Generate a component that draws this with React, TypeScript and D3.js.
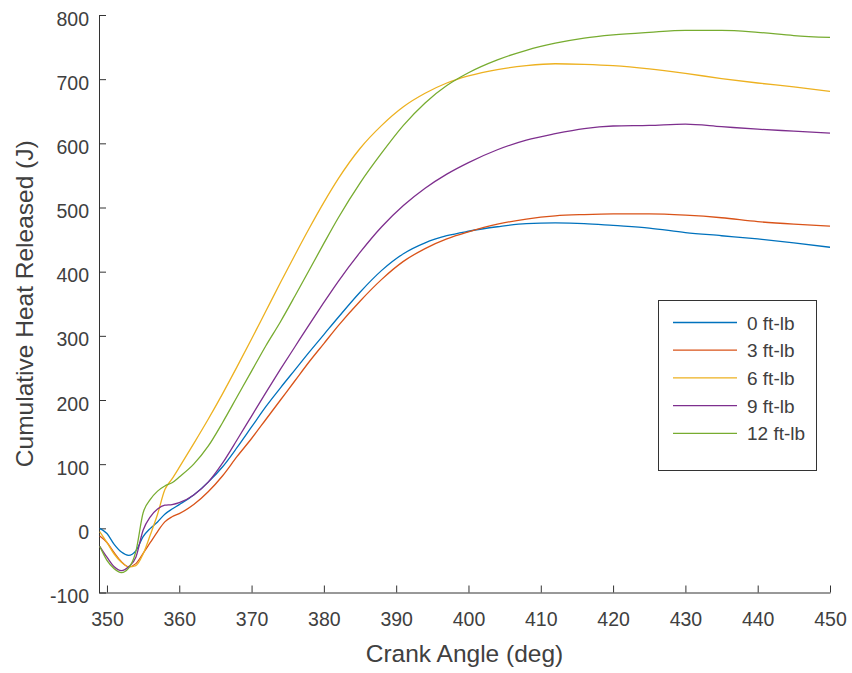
import React, { useRef, useEffect } from 'react';
import * as d3 from 'd3';

const angles = [349, 350, 351, 352, 353, 354, 355, 356, 357, 358, 359, 360, 362, 364, 366, 368, 370, 372, 374, 376, 378, 380, 382, 385, 388, 391, 394, 397, 400, 404, 408, 412, 416, 420, 425, 430, 435, 440, 445, 450];

const load0 = [0, -8, -25, -37, -42, -35, -13, 0, 10, 22, 30, 37, 52, 72, 96, 126, 158, 190, 219, 247, 275, 302, 329, 368, 402, 428, 445, 456, 463, 470, 475, 476, 475, 472, 468, 461, 456, 451, 445, 438];
const load3 = [-12, -22, -38, -52, -60, -55, -39, -22, -5, 10, 18, 23, 37, 57, 82, 112, 140, 170, 200, 230, 260, 288, 316, 354, 388, 416, 436, 451, 462, 474, 482, 487, 489, 490, 490, 488, 484, 478, 474, 471];
const load6 = [-5, -22, -40, -53, -60, -58, -40, -10, 22, 60, 77, 95, 132, 170, 210, 252, 295, 339, 383, 426, 468, 508, 545, 592, 628, 657, 678, 694, 705, 715, 721, 724, 723, 721, 716, 709, 701, 694, 688, 681];
const load9 = [-28, -45, -60, -66, -60, -45, -3, 18, 30, 36, 37, 40, 52, 72, 102, 138, 175, 212, 248, 283, 318, 352, 385, 430, 470, 503, 530, 552, 570, 590, 605, 615, 623, 627, 628, 630, 626, 622, 619, 616];
const load12 = [-28, -50, -63, -69, -62, -36, 24, 45, 58, 66, 71, 80, 100, 128, 165, 205, 245, 285, 322, 362, 403, 444, 484, 538, 585, 628, 663, 690, 710, 730, 745, 756, 764, 769, 773, 776, 776, 773, 768, 765];

const seriesNames = ['0 ft-lb', '3 ft-lb', '6 ft-lb', '9 ft-lb', '12 ft-lb'];
const seriesValues = [load0, load3, load6, load9, load12];
const seriesColors = ['#0072BD', '#D95319', '#EDB120', '#7E2F8E', '#77AC30'];

const xTicks = [350, 360, 370, 380, 390, 400, 410, 420, 430, 440, 450];
const yTicks = [-100, 0, 100, 200, 300, 400, 500, 600, 700, 800];

const W = 852;
const H = 673;
const left = 99, right = 830, top = 15, bottom = 592.5;
const textColor = '#404040';
const font = '"Liberation Sans", Arial, sans-serif';

const App = () => {
    const svgRef = useRef(null);

    useEffect(() => {
        const svg = d3.select(svgRef.current);
        svg.selectAll('*').remove();

        const x = d3.scaleLinear().domain([348.9, 450]).range([left, right]);
        const y = d3.scaleLinear().domain([-100, 800]).range([bottom, top]);

        // axes, MATLAB look: inward ticks, no box
        const xAxis = d3.axisBottom(x).tickValues(xTicks).tickFormat((d) => String(d))
            .tickSizeInner(-7).tickSizeOuter(0).tickPadding(19.5);
        const yAxis = d3.axisLeft(y).tickValues(yTicks).tickFormat((d) => String(d))
            .tickSizeInner(-7).tickSizeOuter(0).tickPadding(10);

        const gx = svg.append('g').attr('transform', `translate(0,${bottom})`).call(xAxis);
        const gy = svg.append('g').attr('transform', `translate(${left},0)`).call(yAxis);

        [gx, gy].forEach((g) => {
            g.select('.domain').attr('stroke', '#333').attr('stroke-width', 1);
            g.selectAll('.tick line').attr('stroke', '#333').attr('stroke-width', 1);
            g.selectAll('.tick text')
                .attr('fill', textColor)
                .style('font-family', font)
                .style('font-size', '19.5px');
        });
        gy.selectAll('.tick text').attr('dy', '10px');

        const line = d3.line()
            .x((d) => x(d[0]))
            .y((d) => y(d[1]))
            .curve(d3.curveMonotoneX);

        seriesValues.forEach((vals, i) => {
            svg.append('path')
                .datum(angles.map((a, j) => [a, vals[j]]))
                .attr('d', line)
                .attr('fill', 'none')
                .attr('stroke', seriesColors[i])
                .attr('stroke-width', 1.3);
        });

        svg.append('text')
            .attr('x', (left + right) / 2)
            .attr('y', 662)
            .attr('text-anchor', 'middle')
            .attr('fill', textColor)
            .style('font-family', font)
            .style('font-size', '24.5px')
            .text('Crank Angle (deg)');

        svg.append('text')
            .attr('transform', `translate(33,${(top + bottom) / 2}) rotate(-90)`)
            .attr('text-anchor', 'middle')
            .attr('fill', textColor)
            .style('font-family', font)
            .style('font-size', '24.5px')
            .text('Cumulative Heat Released (J)');

        // legend
        const lg = svg.append('g');
        lg.append('rect')
            .attr('x', 658.5).attr('y', 300.5)
            .attr('width', 158).attr('height', 170)
            .attr('fill', 'white')
            .attr('stroke', '#333')
            .attr('stroke-width', 1);

        seriesNames.forEach((name, i) => {
            const ry = 322.5 + i * 27.7;
            lg.append('line')
                .attr('x1', 673).attr('x2', 737)
                .attr('y1', ry).attr('y2', ry)
                .attr('stroke', seriesColors[i])
                .attr('stroke-width', 1.3);
            lg.append('text')
                .attr('x', 747)
                .attr('y', ry + 7)
                .attr('fill', textColor)
                .style('font-family', font)
                .style('font-size', '19px')
                .text(name);
        });
    }, []);

    return (
        <div>
            <svg ref={svgRef} width={W} height={H}
                style={{ position: 'absolute', left: 0, top: 0, background: 'white' }}></svg>
        </div>
    );
};

export default App;
